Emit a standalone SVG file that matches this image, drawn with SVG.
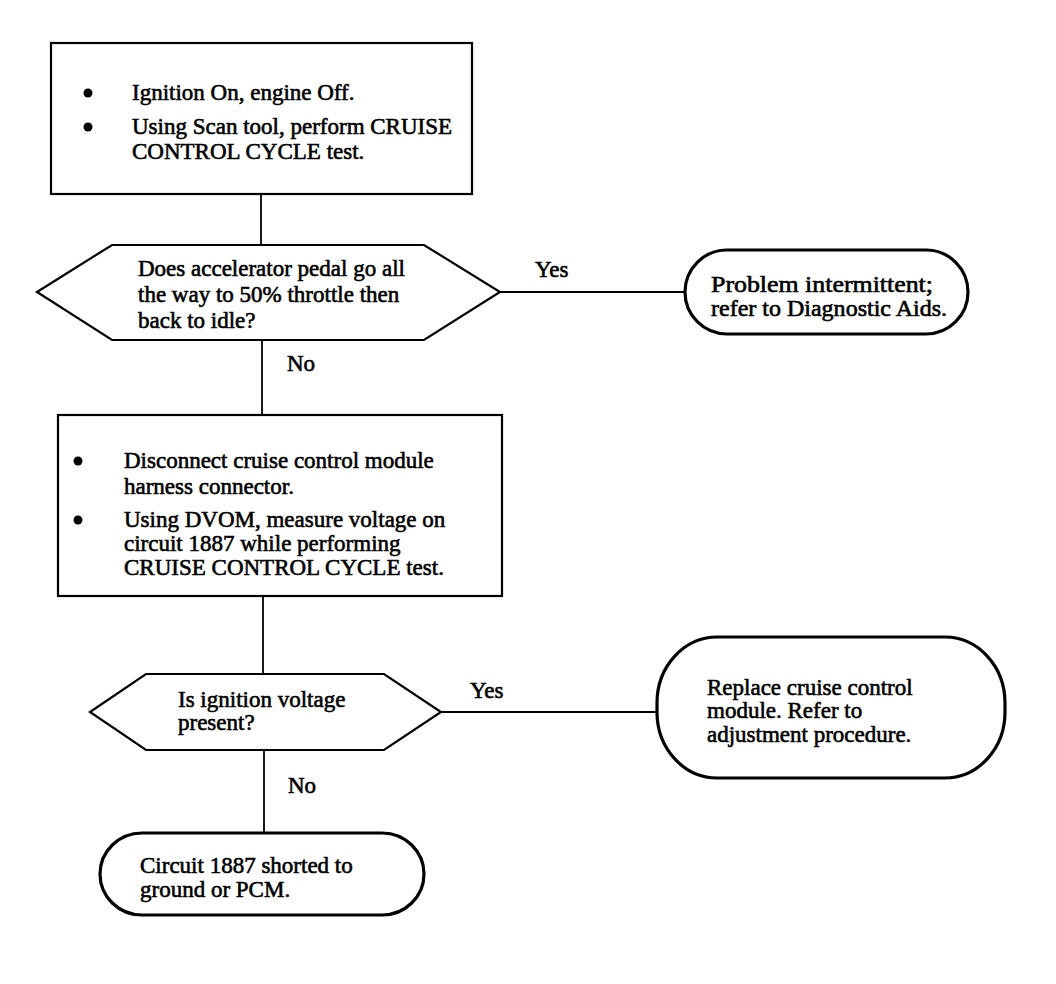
<svg xmlns="http://www.w3.org/2000/svg" width="1056" height="984" viewBox="0 0 1056 984">
<style>
  .t { font-family: "Liberation Serif", "Times New Roman", serif; font-size: 23px; fill: #000; stroke: #000; stroke-width: 0.6px; }
  .box { fill: #fff; stroke: #000; stroke-width: 2.2; }
  .pill { fill: #fff; stroke: #000; stroke-width: 3.2; }
  .ln { fill: none; stroke: #000; stroke-width: 1.8; }
  .dot { fill: #000; }
</style>
<rect x="0" y="0" width="1056" height="984" fill="#fff"/>
<g id="connectors">
  <line class="ln" x1="261" y1="194" x2="261" y2="245"/>
  <line class="ln" x1="500" y1="292" x2="685" y2="292"/>
  <line class="ln" x1="262" y1="340" x2="262" y2="415"/>
  <line class="ln" x1="263" y1="596" x2="263" y2="674"/>
  <line class="ln" x1="441" y1="712" x2="657" y2="712"/>
  <line class="ln" x1="264" y1="750" x2="264" y2="833"/>
  <text class="t" x="535" y="277">Yes</text>
  <text class="t" x="287" y="371">No</text>
  <text class="t" x="470" y="698">Yes</text>
  <text class="t" x="288" y="793">No</text>
</g>
<g id="step1">
  <rect class="box" x="51" y="43" width="421" height="151"/>
  <circle class="dot" cx="88" cy="93" r="4.5"/>
  <circle class="dot" cx="88" cy="127" r="4.5"/>
  <text class="t" x="132" y="100">Ignition On, engine Off.</text>
  <text class="t" x="132" y="134">Using Scan tool, perform CRUISE</text>
  <text class="t" x="132" y="159">CONTROL CYCLE test.</text>
</g>
<g id="decision1">
  <polygon class="box" points="37,292 112,245 424,245 500,292 424,340 112,340"/>
  <text class="t" x="138" y="276">Does accelerator pedal go all</text>
  <text class="t" x="138" y="302">the way to 50% throttle then</text>
  <text class="t" x="138" y="328">back to idle?</text>
</g>
<g id="result1">
  <rect class="pill" x="685" y="250" width="283" height="84" rx="42" ry="42"/>
  <text class="t" x="711" y="292" textLength="222" lengthAdjust="spacingAndGlyphs">Problem intermittent;</text>
  <text class="t" x="711" y="316" textLength="236" lengthAdjust="spacingAndGlyphs">refer to Diagnostic Aids.</text>
</g>
<g id="step2">
  <rect class="box" x="58" y="415" width="444" height="181"/>
  <circle class="dot" cx="78" cy="461" r="4.5"/>
  <circle class="dot" cx="78" cy="520" r="4.5"/>
  <text class="t" x="124" y="468">Disconnect cruise control module</text>
  <text class="t" x="124" y="494">harness connector.</text>
  <text class="t" x="124" y="527">Using DVOM, measure voltage on</text>
  <text class="t" x="124" y="551">circuit 1887 while performing</text>
  <text class="t" x="124" y="575">CRUISE CONTROL CYCLE test.</text>
</g>
<g id="decision2">
  <polygon class="box" points="90,712 146,674 384,674 441,712 384,750 146,750"/>
  <text class="t" x="178" y="707">Is ignition voltage</text>
  <text class="t" x="178" y="730">present?</text>
</g>
<g id="result2">
  <rect class="pill" x="657" y="637" width="348" height="141" rx="60" ry="66"/>
  <text class="t" x="707" y="695">Replace cruise control</text>
  <text class="t" x="707" y="718">module. Refer to</text>
  <text class="t" x="707" y="742">adjustment procedure.</text>
</g>
<g id="result3">
  <rect class="pill" x="100" y="833" width="324" height="82" rx="42" ry="41"/>
  <text class="t" x="140" y="873">Circuit 1887 shorted to</text>
  <text class="t" x="140" y="897">ground or PCM.</text>
</g>
</svg>
